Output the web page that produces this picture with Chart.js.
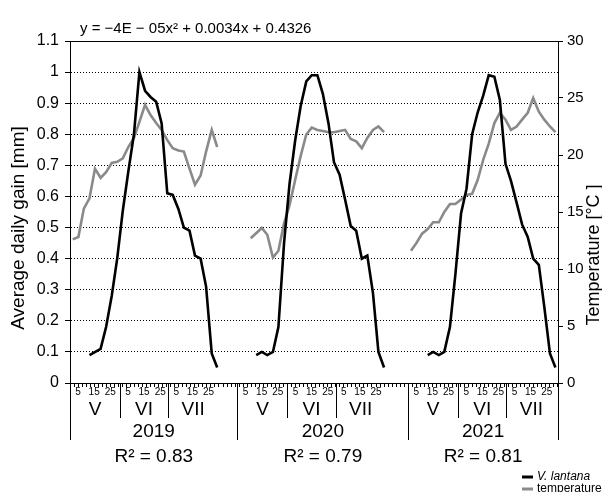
<!doctype html>
<html lang="en">
<head>
<meta charset="utf-8">
<script src="https://cdn.jsdelivr.net/npm/chart.js@4.4.0/dist/chart.umd.min.js"></script>
<title>Average daily gain and temperature</title>
<style>
  html, body { margin: 0; padding: 0; background: #fff; }
</style>
</head>
<body>
<canvas id="gainChart" width="602" height="492"></canvas>
<script>
// ---- data ----
const years = ['2019', '2020', '2021'];
const r2Labels = ['R² = 0.83', 'R² = 0.79', 'R² = 0.81'];
const months = ['V', 'VI', 'VII'];
const monthStartDays = [0, 31, 61, 92];     // day of season (1 May = 0)
const dayLabels = [5, 15, 25];
const yearStartDays = [0, 104, 210];        // where each season begins on the shared day axis
const axisEndDay = 303;
const leftTicks = [0, 0.1, 0.2, 0.3, 0.4, 0.5, 0.6, 0.7, 0.8, 0.9, 1, 1.1];
const rightTicks = [0, 5, 10, 15, 20, 25, 30];
const equation = 'y = \u22124E \u2212 05x² + 0.0034x + 0.4326';

// sampling days inside each season
const days2019 = [1.7, 5.2, 8.6, 12.1, 15.5, 19.0, 22.4, 25.9, 29.3, 32.8, 36.2, 39.7, 43.1, 46.6, 50.0, 53.5, 56.9, 60.4, 63.8, 67.3, 70.7, 74.2, 77.6, 81.1, 84.5, 88.0, 91.4];
const days2020 = [8.2, 11.6, 15.1, 18.5, 22.0, 25.4, 28.9, 32.3, 35.8, 39.2, 42.7, 46.1, 49.6, 53.0, 56.5, 59.9, 63.4, 66.8, 70.3, 73.7, 77.2, 80.6, 84.1, 87.5, 91.0];
const days2021 = [1.7, 5.2, 8.6, 12.1, 15.5, 19.0, 22.4, 25.9, 29.3, 32.8, 36.2, 39.7, 43.1, 46.6, 50.0, 53.5, 56.9, 60.4, 63.8, 67.3, 70.7, 74.2, 77.6, 81.1, 84.5, 88.0, 91.4];

// V. lantana average daily gain [mm]
const lantana2019 = [null, null, null, 0.09, null, 0.11, 0.18, 0.28, 0.40, 0.555, 0.68, 0.80, 1.00, 0.94, 0.92, 0.905, 0.835, 0.61, 0.605, 0.56, 0.50, 0.49, 0.41, 0.40, 0.31, 0.095, 0.05];
const lantana2020 = [null, 0.09, 0.10, 0.09, 0.10, 0.18, 0.45, 0.64, 0.78, 0.89, 0.97, 0.99, 0.99, 0.93, 0.835, 0.71, 0.67, 0.59, 0.505, 0.49, 0.40, 0.41, 0.29, 0.10, 0.05];
const lantana2021 = [null, null, null, 0.09, 0.10, 0.09, 0.10, 0.18, 0.35, 0.545, 0.625, 0.80, 0.87, 0.925, 0.99, 0.985, 0.91, 0.705, 0.65, 0.58, 0.51, 0.47, 0.40, 0.38, 0.245, 0.095, 0.05];

// temperature [°C]
const temp2019 = [12.6, 12.8, 15.3, 16.2, 18.8, 18.0, 18.5, 19.3, 19.4, 19.7, 20.7, 21.5, 22.9, 24.4, 23.5, 22.8, 22.2, 21.3, 20.6, 20.4, 20.3, 18.8, 17.4, 18.2, 20.3, 22.2, 20.7];
const temp2020 = [12.7, null, 13.6, 13.0, 11.0, 11.6, 14.0, 15.6, 17.8, 19.9, 21.8, 22.4, 22.2, 22.1, 22.0, 22.0, 22.1, 22.2, 21.4, 21.2, 20.6, 21.5, 22.2, 22.5, 22.0];
const temp2021 = [11.6, 12.3, 13.1, 13.5, 14.1, 14.1, 15.0, 15.7, 15.7, 16.1, 16.5, 16.6, 17.8, 19.6, 21.0, 22.8, 23.7, 23.1, 22.2, 22.5, 23.1, 23.7, 25.0, 23.8, 23.1, 22.5, 22.0];

const FONT = '"Liberation Sans", Arial, sans-serif';
const BLACK = '#000000';
const GREY = '#8a8a8a';

function toPoints(days, values, yearIdx) {
  const pts = [];
  for (let i = 0; i < days.length; i++) {
    if (values[i] === null) continue;
    pts.push({x: yearStartDays[yearIdx] + days[i], y: values[i]});
  }
  return pts;
}

const lantanaSeries = [lantana2019, lantana2020, lantana2021];
const tempSeries = [temp2019, temp2020, temp2021];
const daySeries = [days2019, days2020, days2021];

const datasets = [];
years.forEach((yr, i) => {
  datasets.push({
    label: 'V. lantana ' + yr,
    data: toPoints(daySeries[i], lantanaSeries[i], i),
    yAxisID: 'y',
    borderColor: BLACK,
    borderWidth: 2.6,
    pointRadius: 0,
    tension: 0,
    order: 1
  });
});
years.forEach((yr, i) => {
  datasets.push({
    label: 'temperature ' + yr,
    data: toPoints(daySeries[i], tempSeries[i], i),
    yAxisID: 'y1',
    borderColor: GREY,
    borderWidth: 2.6,
    pointRadius: 0,
    tension: 0,
    order: 2
  });
});

// minor tick marks along the date axis
const minorTicks = [];
for (let d = 0; d <= axisEndDay; d += 2.5) minorTicks.push(d);

const decorations = {
  id: 'decorations',
  afterDraw(chart) {
    const {ctx, chartArea: area, scales: {x}} = chart;
    ctx.save();
    ctx.fillStyle = '#000';
    ctx.strokeStyle = '#000';
    ctx.lineWidth = 1;

    // regression equation
    ctx.font = '15px ' + FONT;
    ctx.textAlign = 'left';
    ctx.textBaseline = 'alphabetic';
    ctx.fillText(equation, 80, 33);

    // axis titles
    ctx.textAlign = 'center';
    ctx.textBaseline = 'middle';
    ctx.save();
    ctx.font = '19px ' + FONT;
    ctx.translate(19, 228);
    ctx.rotate(-Math.PI / 2);
    ctx.fillText('Average daily gain [mm]', 0, 0);
    ctx.restore();
    ctx.save();
    ctx.font = '18px ' + FONT;
    ctx.translate(594, 255);
    ctx.rotate(-Math.PI / 2);
    ctx.fillText('Temperature [°C ]', 0, 0);
    ctx.restore();

    // multi level date axis: days, months, years
    const bottom = area.bottom;
    years.forEach((yr, i) => {
      const s = yearStartDays[i];
      const e = i < years.length - 1 ? yearStartDays[i + 1] : axisEndDay;
      months.forEach((m, j) => {
        const ms = s + monthStartDays[j];
        const me = s + monthStartDays[j + 1];
        ctx.font = '10px ' + FONT;
        dayLabels.forEach(d => {
          ctx.fillText(String(d), x.getPixelForValue(ms + d), 392);
        });
        ctx.font = '19px ' + FONT;
        ctx.fillText(m, (x.getPixelForValue(ms) + x.getPixelForValue(me)) / 2, 410);
        if (j > 0) {
          const px = Math.round(x.getPixelForValue(ms)) + 0.5;
          ctx.beginPath();
          ctx.moveTo(px, bottom);
          ctx.lineTo(px, 418);
          ctx.stroke();
        }
      });
      [s, e].forEach(d => {
        const px = Math.round(x.getPixelForValue(d)) + 0.5;
        ctx.beginPath();
        ctx.moveTo(px, bottom);
        ctx.lineTo(px, 440);
        ctx.stroke();
      });
      const cx = (x.getPixelForValue(s) + x.getPixelForValue(e)) / 2;
      ctx.font = '19px ' + FONT;
      ctx.fillText(yr, cx, 432);
      ctx.fillText(r2Labels[i], cx, 457);
    });

    // legend
    const legendItems = [
      {text: 'V. lantana', color: BLACK, italic: true, y: 477},
      {text: 'temperature', color: GREY, italic: false, y: 489}
    ];
    legendItems.forEach(item => {
      ctx.strokeStyle = item.color;
      ctx.lineWidth = 3;
      ctx.beginPath();
      ctx.moveTo(522, item.y);
      ctx.lineTo(533, item.y);
      ctx.stroke();
      ctx.font = (item.italic ? 'italic ' : '') + '12px ' + FONT;
      ctx.textAlign = 'left';
      ctx.fillText(item.text, 537, item.y);
    });
    ctx.restore();
  }
};

new Chart(document.getElementById('gainChart'), {
  type: 'line',
  data: {datasets: datasets},
  options: {
    responsive: false,
    animation: false,
    spanGaps: true,
    layout: {padding: {top: 41, left: 0, right: 0, bottom: 0}},
    plugins: {legend: {display: false}, tooltip: {enabled: false}},
    scales: {
      x: {
        type: 'linear',
        min: 0,
        max: axisEndDay,
        afterBuildTicks: scale => { scale.ticks = minorTicks.map(v => ({value: v})); },
        afterFit: scale => { scale.height = 109; },
        ticks: {display: false, autoSkip: false},
        grid: {drawOnChartArea: false, tickLength: 4, color: '#000'},
        border: {color: '#000'}
      },
      y: {
        position: 'left',
        min: 0,
        max: 1.1,
        afterBuildTicks: scale => { scale.ticks = leftTicks.map(v => ({value: v})); },
        afterFit: scale => { scale.width = 70; },
        ticks: {
          color: '#000',
          font: {family: FONT, size: 16},
          padding: 6,
          callback: v => String(Math.round(v * 10) / 10)
        },
        grid: {
          color: c => (c.tick && (c.tick.value === 0 || c.tick.value > 1.05)) ? 'rgba(0,0,0,0)' : '#000',
          tickColor: '#000',
          tickLength: 5,
          lineWidth: 1
        },
        border: {color: '#000', dash: [1, 2]}
      },
      y1: {
        position: 'right',
        min: 0,
        max: 30,
        afterBuildTicks: scale => { scale.ticks = rightTicks.map(v => ({value: v})); },
        afterFit: scale => { scale.width = 44; },
        ticks: {color: '#000', font: {family: FONT, size: 15}, padding: 4},
        grid: {
          color: c => (c.tick && c.tick.value === 30) ? '#000' : 'rgba(0,0,0,0)',
          tickColor: '#000',
          tickLength: 5
        },
        border: {color: '#000'}
      }
    }
  },
  plugins: [decorations]
});
</script>
</body>
</html>
